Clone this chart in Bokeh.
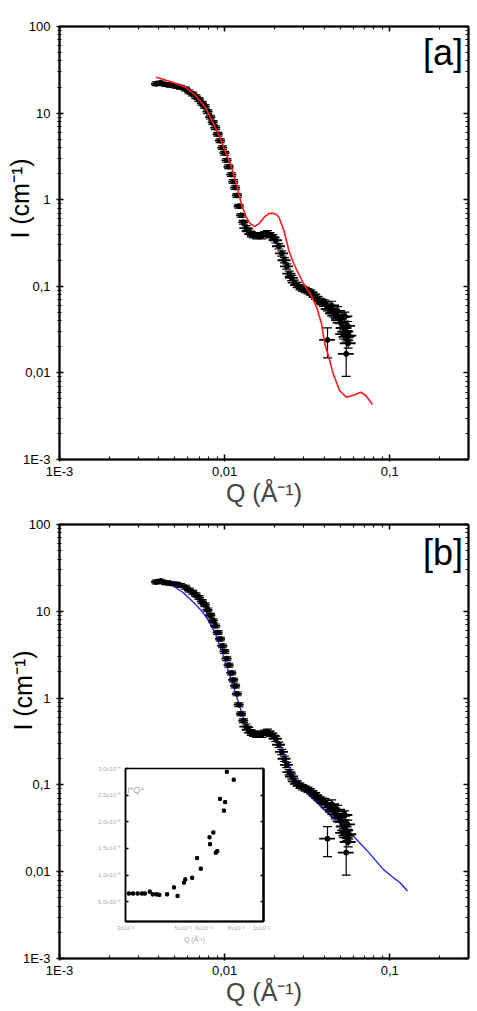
from bokeh.plotting import figure
from bokeh.layouts import column
from bokeh.models import (ColumnDataSource, FixedTicker, LogAxis, LinearAxis,
                          Label, Range1d, Whisker, TeeHead, Title)
from bokeh.embed import file_html
from bokeh.resources import INLINE

FONT = "Liberation Sans"

# Measured SANS curve: Q (1/Å), I (1/cm), relative errors on I and Q
q_exp = [0.00385, 0.0041, 0.0044, 0.0047, 0.0051, 0.0054, 0.0058, 0.0061, 0.0064, 0.0067,
         0.0070, 0.0073, 0.0076, 0.0079, 0.0082, 0.0085, 0.0088, 0.0091, 0.0094, 0.0097,
         0.0100, 0.0103, 0.0106, 0.0110, 0.0113, 0.0116, 0.0119, 0.0122, 0.0126, 0.0130,
         0.0135, 0.0140, 0.0145, 0.0150, 0.0156, 0.0162, 0.0168, 0.0175, 0.0182, 0.0189,
         0.0196, 0.0204, 0.0213, 0.0222, 0.0230, 0.0238, 0.0246, 0.0255, 0.0265, 0.0275,
         0.0286, 0.0297, 0.0308, 0.0320, 0.0332, 0.0344, 0.0356, 0.0368, 0.0380, 0.0393,
         0.0406, 0.0419, 0.0420, 0.0432, 0.0445, 0.0458, 0.0470, 0.0483, 0.0495, 0.0507,
         0.0518, 0.0525, 0.0529, 0.0535, 0.0540, 0.0545, 0.0550, 0.0556, 0.0560, 0.0565]
i_exp = [21.8, 22.3, 21.4, 21.0, 20.5, 19.9, 19.0, 17.6, 16.6, 15.5,
         14.4, 13.0, 11.9, 10.4, 9.0, 7.8, 6.8, 5.7, 4.8, 4.0,
         3.45, 2.85, 2.4, 1.95, 1.62, 1.38, 1.12, 0.84, 0.66, 0.55,
         0.47, 0.43, 0.40, 0.39, 0.38, 0.39, 0.38, 0.40, 0.41, 0.39,
         0.37, 0.34, 0.29, 0.24, 0.20, 0.17, 0.14, 0.125, 0.11, 0.104,
         0.098, 0.094, 0.091, 0.088, 0.085, 0.080, 0.076, 0.071, 0.068, 0.066,
         0.062, 0.059, 0.024, 0.055, 0.060, 0.050, 0.046, 0.052, 0.042, 0.038,
         0.044, 0.028, 0.033, 0.045, 0.030, 0.0166, 0.026, 0.035, 0.022, 0.027]
di_rel = [0.05] * 30 + [0.07] * 30 + [0.12, 0.12, 0.38, 0.12, 0.12, 0.12, 0.12, 0.12, 0.12, 0.12,
                                      0.12, 0.12, 0.12, 0.12, 0.12, 0.45, 0.12, 0.12, 0.12, 0.12]
dq_rel = [0.07] * 30 + [0.09] * 30 + [0.11] * 20

# Form-factor model, panel [a]
q_fit_a = [0.00385, 0.00484, 0.0058, 0.00666, 0.00764, 0.00837, 0.00917, 0.01004, 0.01101,
           0.01179, 0.01262, 0.01352, 0.01430, 0.01515, 0.01620, 0.01737, 0.01850, 0.01950,
           0.02050, 0.02133, 0.02286, 0.02449, 0.02624, 0.02807, 0.03008, 0.03296, 0.03612,
           0.03864, 0.04046, 0.04335, 0.04539, 0.0497, 0.0545, 0.0597, 0.0669, 0.0716, 0.0785]
i_fit_a = [26.0, 22.7, 19.9, 16.0, 11.7, 8.2, 5.77, 3.70, 2.37,
           1.52, 0.897, 0.628, 0.53, 0.491, 0.53, 0.628, 0.69, 0.70,
           0.68, 0.628, 0.441, 0.259, 0.182, 0.139, 0.107, 0.0819, 0.0574,
           0.0369, 0.0217, 0.0139, 0.0098, 0.00627, 0.00525, 0.00548, 0.00598, 0.00548, 0.00432]

# Model with size distribution, panel [b]
q_fit_b = [0.0041, 0.0048, 0.0056, 0.0064, 0.0072, 0.0080, 0.0088, 0.0096, 0.0104, 0.0112,
           0.0120, 0.0128, 0.0136, 0.0144, 0.0160, 0.0180, 0.0200, 0.0215, 0.0230, 0.0250,
           0.0280, 0.0320, 0.0360, 0.0410, 0.0460, 0.0520, 0.0580, 0.0650, 0.0730, 0.0820,
           0.0920, 0.1030, 0.1150, 0.1280]
i_fit_b = [22.6, 20.0, 16.5, 13.0, 10.3, 7.8, 5.5, 3.5, 2.2, 1.45,
           0.95, 0.65, 0.47, 0.40, 0.39, 0.39, 0.38, 0.30, 0.22, 0.15,
           0.105, 0.078, 0.063, 0.050, 0.041, 0.034, 0.028, 0.022, 0.0175, 0.0135,
           0.0105, 0.0088, 0.0075, 0.0060]

# Inset: Porod representation I*Q^4 at low Q
q_inset = [0.00309, 0.00321, 0.00334, 0.00347, 0.00356, 0.00372, 0.00382, 0.00395, 0.00405,
           0.00434, 0.00461, 0.00476, 0.00504, 0.00510, 0.00542, 0.00566, 0.00585, 0.00632,
           0.00635, 0.00654, 0.00668, 0.00677, 0.00694, 0.00718, 0.00726, 0.00737, 0.00783]
iq4_inset = [0.655e-8, 0.655e-8, 0.655e-8, 0.655e-8, 0.655e-8, 0.69e-8, 0.64e-8, 0.64e-8, 0.63e-8,
             0.64e-8, 0.77e-8, 0.61e-8, 0.86e-8, 0.92e-8, 0.95e-8, 1.32e-8, 1.12e-8, 1.71e-8,
             1.58e-8, 1.80e-8, 1.42e-8, 1.45e-8, 2.43e-8, 2.21e-8, 2.37e-8, 2.94e-8, 2.79e-8]

# Tick values and their printed labels
y_ticks = [1e-3, 1e-2, 1e-1, 1.0, 10.0, 100.0]
y_labels = ["1E-3", "0,01", "0,1", "1", "10", "100"]
x_ticks = [1e-3, 1e-2, 1e-1]
x_labels = ["1E-3", "0,01", "0,1"]
inset_x_ticks = [0.003, 0.005, 0.006, 0.008, 0.01]
inset_x_labels = ["3x10\u207b\u00b3", "5x10\u207b\u00b3", "6x10\u207b\u00b3", "8x10\u207b\u00b3", "1x10\u207b\u00b2"]
inset_y_ticks = [0.5e-8, 1.0e-8, 1.5e-8, 2.0e-8, 2.5e-8, 3.0e-8]
inset_y_labels = ["5,0x10\u207b\u2079", "1,0x10\u207b\u2078", "1,5x10\u207b\u2078",
                  "2,0x10\u207b\u2078", "2,5x10\u207b\u2078", "3,0x10\u207b\u2078"]

y_minor = [m * 10.0 ** e for e in range(-3, 2) for m in range(2, 10)]
x_minor = [m * 10.0 ** e for e in range(-3, -1) for m in range(2, 10)] + [0.2, 0.3]

Y_TITLE = "I (cm\u207b\u00b9)"
X_TITLE = "Q (\u00c5\u207b\u00b9)"
TITLE_SIZE = "25px"


def data_source():
    return ColumnDataSource(dict(
        q=q_exp, i=i_exp,
        i_lo=[v * (1 - r) for v, r in zip(i_exp, di_rel)],
        i_hi=[v * (1 + r) for v, r in zip(i_exp, di_rel)],
        q_lo=[v * (1 - r) for v, r in zip(q_exp, dq_rel)],
        q_hi=[v * (1 + r) for v, r in zip(q_exp, dq_rel)],
    ))


def style_axis(ax, ticks, minors, labels, show, t_in, t_out, m_in, m_out, standoff=2):
    ax.ticker = FixedTicker(ticks=ticks, minor_ticks=minors)
    ax.axis_line_color = "black"
    ax.axis_line_width = 2
    ax.major_tick_line_color = "black"
    ax.major_tick_line_width = 1.5
    ax.minor_tick_line_color = "black"
    ax.minor_tick_line_width = 1
    ax.major_tick_in = t_in
    ax.major_tick_out = t_out
    ax.minor_tick_in = m_in
    ax.minor_tick_out = m_out
    if show:
        ax.major_label_overrides = dict(zip(ticks, labels))
        ax.major_label_text_font = FONT
        ax.major_label_text_font_size = "13px"
        ax.major_label_text_color = "black"
        ax.major_label_standoff = standoff
    else:
        ax.major_label_overrides = {t: "" for t in ticks}
        ax.major_label_text_font_size = "1px"
        ax.major_label_standoff = 0


def make_panel(width, height, borders, tag, tag_y):
    left, right, top, bottom = borders
    p = figure(width=width, height=height, x_axis_type="log", y_axis_type="log",
               x_range=Range1d(1e-3, 0.3), y_range=Range1d(1e-3, 100),
               output_backend="svg", toolbar_location=None,
               min_border_left=left, min_border_right=right,
               min_border_top=top, min_border_bottom=bottom,
               background_fill_color="white", border_fill_color="white")
    p.xgrid.visible = False
    p.ygrid.visible = False
    p.outline_line_color = "black"
    p.outline_line_width = 1.5

    bottom_ax = p.below[0]
    left_ax = p.left[0]
    top_ax = LogAxis()
    p.add_layout(top_ax, "above")
    right_ax = LogAxis()
    p.add_layout(right_ax, "right")

    style_axis(bottom_ax, x_ticks, x_minor, x_labels, True, 5, 2, 3, 0, standoff=2)
    style_axis(left_ax, y_ticks, y_minor, y_labels, True, 4, 3, 2, 2, standoff=6)
    style_axis(top_ax, x_ticks, x_minor, x_labels, False, 5, 0, 3, 0)
    style_axis(right_ax, y_ticks, y_minor, y_labels, False, 5, 0, 3, 0)

    bottom_ax.axis_label = X_TITLE
    bottom_ax.axis_label_text_font = FONT
    bottom_ax.axis_label_text_font_size = TITLE_SIZE
    bottom_ax.axis_label_text_font_style = "normal"
    bottom_ax.axis_label_standoff = -3

    p.add_layout(Label(x=0.278, y=tag_y, text=tag, text_align="right",
                       text_baseline="middle", text_font=FONT,
                       text_font_size="36px", text_color="black"))
    return p


def draw_data(p):
    src = data_source()
    p.segment(x0="q_lo", y0="i", x1="q_hi", y1="i", source=src,
              line_color="black", line_width=1.8)
    p.add_layout(Whisker(base="q", lower="i_lo", upper="i_hi", source=src,
                         dimension="height", line_color="black", line_width=1.2,
                         lower_head=TeeHead(size=9, line_color="black", line_width=1.2),
                         upper_head=TeeHead(size=9, line_color="black", line_width=1.2)))
    p.scatter(x="q", y="i", source=src, size=5, marker="circle",
              fill_color="black", line_color="black")


def title_box(text, top, left, flow_y):
    """Transparent strip carrying a rotated axis title, laid over a panel's left margin."""
    f = figure(width=40, height=120, x_range=Range1d(0, 1), y_range=Range1d(0, 1),
               x_axis_location=None, y_axis_location=None,
               output_backend="svg", toolbar_location=None, min_border=0,
               background_fill_alpha=0, border_fill_alpha=0, outline_line_color=None,
               margin=(top - flow_y, 0, 0, left))
    f.xgrid.visible = False
    f.ygrid.visible = False
    f.add_layout(Title(text=text, align="center", text_font=FONT,
                       text_font_size=TITLE_SIZE, text_font_style="normal",
                       text_color="black", standoff=0, offset=0), "left")
    return f


# Panel [a]
pa = make_panel(477, 510, (54, 6, 26, 51), "[a]", 50.7)
draw_data(pa)
pa.line(q_fit_a, i_fit_a, line_color="#ff1a1a", line_width=1.6)

# Panel [b]
pb = make_panel(477, 501, (59, 9, 14, 53), "[b]", 48.2)
pb.line(q_fit_b, i_fit_b, line_color="#1a1aff", line_width=1.3)
draw_data(pb)

# Inset over panel [b]
inset = figure(width=206, height=185, x_axis_type="log",
               x_range=Range1d(0.003, 0.0102), y_range=Range1d(0.13e-8, 3.0e-8),
               output_backend="svg", toolbar_location=None,
               min_border_left=40, min_border_right=7, min_border_top=8, min_border_bottom=24,
               background_fill_color="white", border_fill_alpha=0,
               margin=(760 - 1011, 0, 0, 66))
inset.xgrid.visible = False
inset.ygrid.visible = False
inset.outline_line_color = "black"
inset.outline_line_width = 1.5

ix = inset.below[0]
ix.ticker = FixedTicker(ticks=inset_x_ticks, minor_ticks=[])
ix.major_label_overrides = dict(zip(inset_x_ticks, inset_x_labels))
ix.major_tick_in = 0
ix.major_tick_out = 0
ix.axis_line_width = 2
ix.major_label_text_font = FONT
ix.major_label_text_font_size = "6px"
ix.major_label_text_color = "#a8a8a8"
ix.major_label_standoff = 3
ix.axis_label = X_TITLE
ix.axis_label_text_font = FONT
ix.axis_label_text_font_size = "7px"
ix.axis_label_text_font_style = "normal"
ix.axis_label_text_color = "#a8a8a8"
ix.axis_label_standoff = 2

iy = inset.left[0]
iy.ticker = FixedTicker(ticks=inset_y_ticks, minor_ticks=[])
iy.major_label_overrides = dict(zip(inset_y_ticks, inset_y_labels))
iy.major_tick_in = 3
iy.major_tick_out = 0
iy.major_tick_line_width = 1.5
iy.axis_line_width = 1.5
iy.major_label_text_font = FONT
iy.major_label_text_font_size = "6px"
iy.major_label_text_color = "#a8a8a8"
iy.major_label_standoff = 5

iright = LinearAxis(ticker=FixedTicker(ticks=inset_y_ticks, minor_ticks=[]))
iright.major_label_overrides = {t: "" for t in inset_y_ticks}
iright.major_label_text_font_size = "1px"
iright.major_label_standoff = 0
iright.major_tick_in = 3
iright.major_tick_out = 0
iright.major_tick_line_width = 1.5
iright.axis_line_width = 2.5
inset.add_layout(iright, "right")

isrc = ColumnDataSource(dict(
    q=q_inset, v=iq4_inset,
    q_lo=[q * 0.985 for q in q_inset], q_hi=[q * 1.015 for q in q_inset],
    v_lo=[v - 0.04e-8 for v in iq4_inset], v_hi=[v + 0.04e-8 for v in iq4_inset],
))
inset.segment(x0="q_lo", y0="v", x1="q_hi", y1="v", source=isrc, line_color="black", line_width=1.5)
inset.segment(x0="q", y0="v_lo", x1="q", y1="v_hi", source=isrc, line_color="black", line_width=1)
inset.scatter(x="q", y="v", source=isrc, size=3, marker="square",
              fill_color="black", line_color="black")
inset.add_layout(Label(x=0.00305, y=2.6e-8, text="I*Q\u2074", text_font=FONT,
                       text_font_size="9px", text_color="#a8a8a8",
                       text_baseline="alphabetic"))

# Rotated intensity titles over the left margins of both panels
ytitle_a = title_box(Y_TITLE, 138, 2, 760 + 185)
ytitle_b = title_box(Y_TITLE, 630, 5, 138 + 120)

layout = column(pa, pb, inset, ytitle_a, ytitle_b, spacing=0)
open("out.html", "w").write(file_html(layout, INLINE))
